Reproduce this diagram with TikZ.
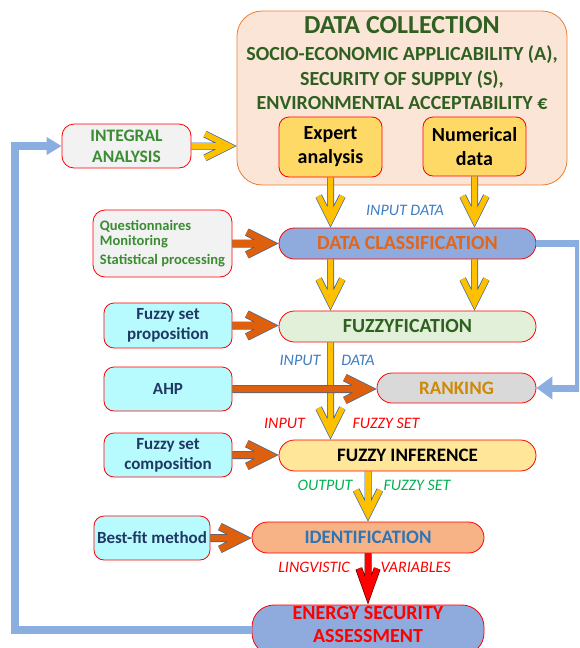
\documentclass[tikz,border=0pt]{standalone}
\usepackage{fontspec}
\setmainfont{Carlito}
\usetikzlibrary{arrows.meta,calc}
\definecolor{dcfill}{HTML}{FBE5D6}
\definecolor{dcborder}{HTML}{ED7D31}
\definecolor{dkgreen}{HTML}{2F6021}
\definecolor{midgreen}{HTML}{3B8C32}
\definecolor{yelbox}{HTML}{FFD966}
\definecolor{grayfill}{HTML}{F2F2F2}
\definecolor{cyanfill}{HTML}{B7FBFF}
\definecolor{navy}{HTML}{1F3864}
\definecolor{pillblue}{HTML}{8FAADC}
\definecolor{orangetext}{HTML}{E2651A}
\definecolor{fuzzfill}{HTML}{E2F0D9}
\definecolor{rankfill}{HTML}{D9D9D9}
\definecolor{ranktext}{HTML}{CC8A08}
\definecolor{finffill}{HTML}{FFE699}
\definecolor{identfill}{HTML}{F7B385}
\definecolor{identtext}{HTML}{2E75B6}
\definecolor{arrowyel}{HTML}{FFC000}
\definecolor{arroworange}{HTML}{DE5F0C}
\definecolor{arrowblue}{HTML}{3565A0}
\definecolor{darkred}{HTML}{5A0000}
\definecolor{fbblue}{HTML}{8AAEE0}
\definecolor{lblblue}{HTML}{3C7DC4}
\definecolor{lblgreen}{HTML}{00B050}
% block arrow: #1 fill, #2 outline, #3 from, #4 to, #5 outer width, #6 inner width, #7 vertex offset, #8 end x, #9 end y
\newcommand{\barrow}[9]{%
  \path let \p1=#3, \p2=#4 in \pgfextra{%
    \pgfmathparse{atan2(\y2-\y1,\x2-\x1)}\xdef\barang{\pgfmathresult}%
    \pgfmathparse{veclen(\x2-\x1,\y2-\y1)}\xdef\barlen{\pgfmathresult}};
  \begin{scope}[shift={#4}, rotate=\barang, line join=miter, miter limit=10, line cap=butt]
    \draw[#2, line width=#5pt] (-\barlen,0) -- (-#7,0) (#8,#9) -- (-#7,0) -- (#8,-#9);
    \draw[#1, line width=#6pt] (-\barlen,0) -- (-#7,0) (#8,#9) -- (-#7,0) -- (#8,-#9);
  \end{scope}}
\newcommand{\yarrow}[2]{\barrow{arrowyel}{arrowblue}{#1}{#2}{7}{5.6}{7.83}{-31.57}{11.87}}
\newcommand{\oarrow}[2]{\barrow{arroworange}{arrowblue}{#1}{#2}{8}{6.6}{8.94}{-31.7}{11.4}}
\newcommand{\rarrow}[2]{\barrow{red}{darkred}{#1}{#2}{7}{5.6}{10.4}{-36.1}{9.2}}
\begin{document}
\begin{tikzpicture}[x=1pt,y=-1pt,
  box/.style={draw=red, line width=0.8pt, rounded corners=10pt, inner sep=0pt, align=center, font=\bfseries},
  pill/.style={box, rounded corners=15.5pt, minimum width=257pt, minimum height=31pt},
  sidebox/.style={box, fill=cyanfill, text=navy, minimum width=128pt, minimum height=44pt, font=\bfseries\fontsize{17}{20}\selectfont},
  lbl/.style={font=\itshape\fontsize{16}{16}\selectfont, inner sep=0pt},
  fb/.style={draw=fbblue, line width=8pt}]
\useasboundingbox (0,0) rectangle (579,648);
\clip (0,0) rectangle (579,648);

% data collection
\node[box, draw=dcborder, fill=dcfill, rounded corners=25pt, minimum width=330pt, minimum height=174pt] (dc) at (402,98) {};
\node[font=\bfseries\fontsize{26}{26}\selectfont, text=dkgreen, inner sep=0pt] (dctitle) at (402,25) {DATA COLLECTION};
\node[font=\bfseries\fontsize{20}{24.5}\selectfont, text=dkgreen, align=center, inner sep=0pt] (dcsub) at (402,78) {SOCIO-ECONOMIC APPLICABILITY (A),\\SECURITY OF SUPPLY (S),\\ENVIRONMENTAL ACCEPTABILITY €};
\node[box, fill=yelbox, minimum width=103pt, minimum height=60pt, font=\bfseries\fontsize{20}{24}\selectfont] (expert) at (330.5,147) {Expert\\analysis};
\node[box, fill=yelbox, minimum width=103pt, minimum height=59pt, font=\bfseries\fontsize{20}{24}\selectfont] (numer) at (474.5,146.5) {Numerical\\data};

% left boxes
\node[box, fill=grayfill, text=midgreen, minimum width=129pt, minimum height=44pt, rounded corners=12pt, font=\bfseries\fontsize{17.5}{21}\selectfont] (integral) at (126.5,146) {INTEGRAL\\ANALYSIS};
\node[box, fill=grayfill, text=midgreen, minimum width=139pt, minimum height=67pt, rounded corners=12pt, align=left, font=\bfseries\fontsize{14.5}{15}\selectfont] (quest) at (162.5,243.5) {Questionnaires\\Monitoring\\[4pt]Statistical processing};
\node[sidebox, minimum height=45pt] (fsp) at (168,325.5) {Fuzzy set\\proposition};
\node[sidebox] (ahp) at (168,389) {AHP};
\node[sidebox] (fsc) at (168,455) {Fuzzy set\\composition};
\node[sidebox, minimum width=116pt, font=\bfseries\fontsize{17}{20}\selectfont] (best) at (152,538) {Best-fit method};

% main column
\node[pill, fill=pillblue, text=orangetext, font=\bfseries\fontsize{20}{20}\selectfont] (dclass) at (407.5,243.5) {DATA CLASSIFICATION};
\node[pill, fill=fuzzfill, text=dkgreen, font=\bfseries\fontsize{20}{20}\selectfont] (fuzzyf) at (407.5,326.5) {FUZZYFICATION};
\node[pill, fill=rankfill, text=ranktext, minimum width=159pt, minimum height=30pt, rounded corners=15pt, font=\bfseries\fontsize{19}{19}\selectfont] (rank) at (456.5,388) {RANKING};
\node[pill, fill=finffill, text=black, font=\bfseries\fontsize{19}{19}\selectfont] (finf) at (407.5,455.5) {FUZZY INFERENCE};
\node[pill, fill=identfill, text=identtext, minimum width=232pt, font=\bfseries\fontsize{19}{19}\selectfont] (ident) at (368,537.5) {IDENTIFICATION};
\node[pill, fill=pillblue, minimum width=232pt, minimum height=50pt, rounded corners=22pt] (esa) at (368,630) {};
\node[text=red, align=center, inner sep=0pt, font=\bfseries\fontsize{20}{23}\selectfont] (esatext) at (368,625) {ENERGY SECURITY\\ASSESSMENT};

% feedback lines
\draw[fb, -{Triangle[length=15pt,width=17pt]}] (esa.west) -- ++(-237,0) |- (integral.west);
\draw[fb, line width=7pt, -{Triangle[length=16pt,width=22pt]}] (dclass.east) -- ++(42,0) |- (rank.east);

% yellow arrows
\yarrow{(integral.east)}{(integral.east -| dc.west)}
\yarrow{(expert.south)}{(expert.south |- dclass.north)}
\yarrow{(numer.south)}{(numer.south |- dclass.north)}
\yarrow{(expert.south |- dclass.south)}{(expert.south |- fuzzyf.north)}
\yarrow{(numer.south |- dclass.south)}{(numer.south |- fuzzyf.north)}
\yarrow{(expert.south |- fuzzyf.south)}{(expert.south |- finf.north)}
\yarrow{(ident.north |- finf.south)}{(ident.north)}
\rarrow{(ident.south)}{(esa.north)}

% orange arrows
\oarrow{(quest.east)}{(quest.east -| dclass.west)}
\oarrow{(fsp.east)}{(fsp.east -| fuzzyf.west)}
\oarrow{(ahp.east)}{(ahp.east -| rank.west)}
\oarrow{(fsc.east)}{(fsc.east -| finf.west)}
\oarrow{(best.east)}{(best.east -| ident.west)}

% labels
\node[lbl, text=lblblue] (l1) at (405,210) {INPUT DATA};
\node[lbl, text=lblblue] (l2) at (300,360) {INPUT};
\node[lbl, text=lblblue] (l3) at (358,360) {DATA};
\node[lbl, text=red] (l4) at (284.5,423) {INPUT};
\node[lbl, text=red] (l5) at (386,423) {FUZZY SET};
\node[lbl, text=lblgreen] (l6) at (325,485) {OUTPUT};
\node[lbl, text=lblgreen] (l7) at (417,485) {FUZZY SET};
\node[lbl, text=red] (l8) at (314,567) {LINGVISTIC};
\node[lbl, text=red] (l9) at (415.5,567) {VARIABLES};
\end{tikzpicture}
\end{document}
